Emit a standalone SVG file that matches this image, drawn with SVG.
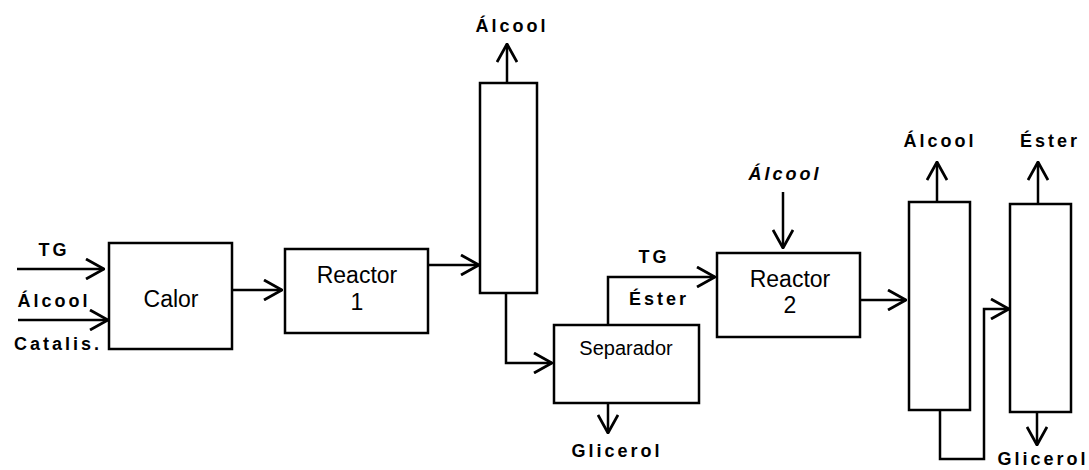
<svg xmlns="http://www.w3.org/2000/svg" width="1089" height="470" viewBox="0 0 1089 470">
<style>
.box{fill:#fff;stroke:#000;stroke-width:2.5}
.ln{fill:none;stroke:#000;stroke-width:2.5;marker-end:url(#ah)}
.t{font-family:"Liberation Sans",Arial,sans-serif;font-size:23px;fill:#000;text-anchor:middle}
.lb{font-family:"Liberation Sans",Arial,sans-serif;font-size:18px;font-weight:bold;letter-spacing:3px;fill:#000;text-anchor:middle}
</style>
<defs>
<marker id="ah" viewBox="0 0 20 22" refX="19" refY="11" markerWidth="20" markerHeight="22" markerUnits="userSpaceOnUse" orient="auto">
<path d="M1,1 L19,11 L1,21" fill="none" stroke="#000" stroke-width="2.8"/>
</marker>
</defs>
<rect width="1089" height="470" fill="#fff"/>
<g id="connectors">
<path class="ln" d="M17,269 H104"/>
<path class="ln" d="M18,320 H108"/>
<path class="ln" d="M232,290 H282"/>
<path class="ln" d="M428,265 H479"/>
<path class="ln" d="M507,83 V44"/>
<path class="ln" d="M506,293 V363 H552"/>
<path class="ln" d="M608,403 V433"/>
<path class="ln" d="M608,325 V277 H715"/>
<path class="ln" d="M783,192 V248"/>
<path class="ln" d="M860,300 H906"/>
<path class="ln" d="M937,202 V162"/>
<path class="ln" d="M940,410 V459 H984 V309 H1009"/>
<path class="ln" d="M1038,204 V162"/>
<path class="ln" d="M1037,412 V445"/>
</g>
<g id="labels">
<text class="lb" x="54" y="256">TG</text>
<text class="lb" x="54" y="307">Álcool</text>
<text class="lb" x="58" y="350">Catalis.</text>
<text class="lb" x="512" y="32">Álcool</text>
<text class="lb" x="654" y="263">TG</text>
<text class="lb" x="659" y="305">Éster</text>
<text class="lb" x="617" y="457">Glicerol</text>
<text class="lb" x="785" y="180" font-style="italic">Álcool</text>
<text class="lb" x="940" y="147">Álcool</text>
<text class="lb" x="1050" y="147">Éster</text>
<text class="lb" x="1043" y="465">Glicerol</text>
</g>
<g id="calor">
<rect class="box" x="109" y="243" width="123" height="106"/>
<text class="t" x="171" y="307">Calor</text>
</g>
<g id="reactor1">
<rect class="box" x="285" y="249" width="143" height="84"/>
<text class="t" x="357" y="283">Reactor</text>
<text class="t" x="357" y="310">1</text>
</g>
<g id="column1">
<rect class="box" x="480" y="83" width="57" height="210"/>
</g>
<g id="separador">
<rect class="box" x="554" y="325" width="145" height="78"/>
<text class="t" x="626" y="355" style="font-size:20px">Separador</text>
</g>
<g id="reactor2">
<rect class="box" x="717" y="253" width="143" height="84"/>
<text class="t" x="790" y="287">Reactor</text>
<text class="t" x="790" y="313">2</text>
</g>
<g id="column2">
<rect class="box" x="909" y="202" width="61" height="208"/>
</g>
<g id="column3">
<rect class="box" x="1010" y="204" width="61" height="208"/>
</g>
</svg>
